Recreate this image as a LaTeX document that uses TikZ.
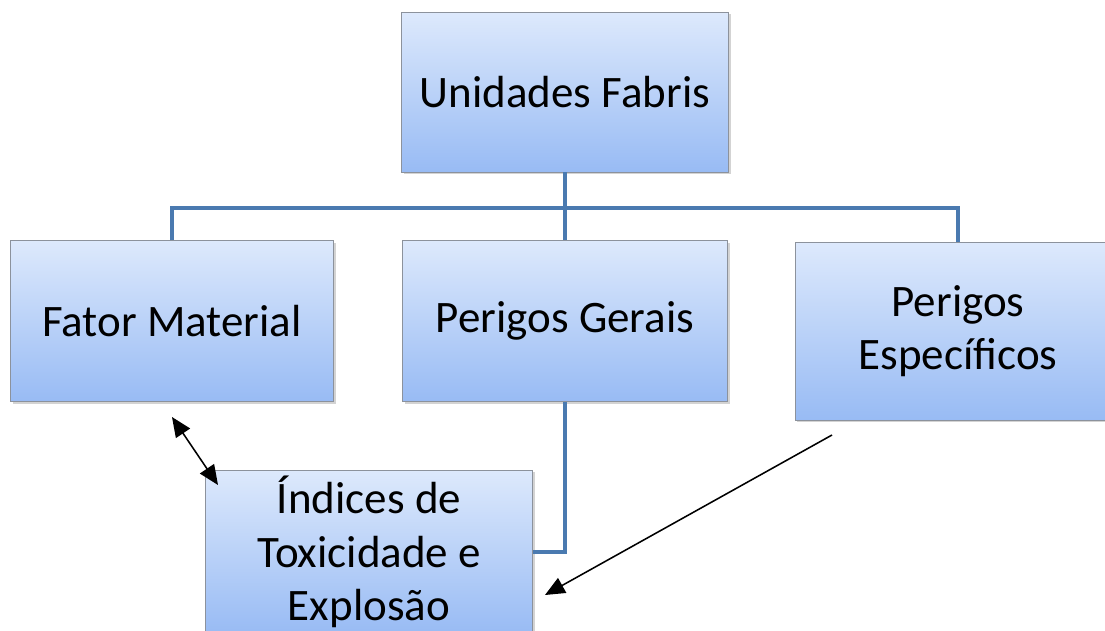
\documentclass[tikz,border=0pt]{standalone}
\usepackage{fontspec}
\setmainfont{Carlito}
\usetikzlibrary{calc}
\usetikzlibrary{arrows.meta}
\usetikzlibrary{shadows}
\usepackage{xcolor}

\definecolor{boxtop}{RGB}{221,233,252}
\definecolor{boxbot}{RGB}{152,187,244}
\definecolor{boxline}{RGB}{140,146,156}
\definecolor{treeblue}{RGB}{74,122,176}

\tikzset{
 unitbox/.style={draw=boxline, line width=.6pt, top color=boxtop, bottom color=boxbot,
  drop shadow={opacity=.35, shadow xshift=1.5pt, shadow yshift=-1.5pt},
  align=center, inner sep=0pt, font=\fontsize{32}{38}\selectfont},
 tree/.style={treeblue, line width=2.8pt},
 pointer/.style={black, line width=1.1pt, >={Triangle[length=14pt,width=12pt]}}
}

\begin{document}
\begin{tikzpicture}[x=.025cm, y=-.025cm]
\useasboundingbox (0,0) rectangle (1105,631);
\clip (0,0) rectangle (1105,631);
\node[unitbox, minimum width=327*.025cm, minimum height=160*.025cm] (uf) at (565,92) {Unidades Fabris};
\node[unitbox, minimum width=323*.025cm, minimum height=161*.025cm] (fm) at (172,321) {Fator Material};
\node[unitbox, minimum width=325*.025cm, minimum height=161*.025cm] (pg) at (565,321) {Perigos Gerais};
\node[unitbox, minimum width=326*.025cm, minimum height=178*.025cm] (pe) at (958,331) {Perigos\\Espec\'{\i}ficos};
\node[unitbox, minimum width=327*.025cm, minimum height=164*.025cm] (ix) at (369,552) {\'Indices de\\Toxicidade e\\Explos\~ao};
% tree
\coordinate (hub) at (565,208);
\draw[tree] (uf.south) -- (pg.north);
\draw[tree] (fm.north) |- (hub) -| (pe.north);
\draw[tree] (pg.south) |- (ix.east);
% arrows
\coordinate (fmtip) at (172,417);
\coordinate (ixtip) at (218,485);
\coordinate (petail) at (832,435);
\coordinate (ixend) at (545,595);
\draw[pointer, <->] (fmtip) -- (ixtip);
\draw[pointer, ->] (petail) -- (ixend);
\end{tikzpicture}
\end{document}
